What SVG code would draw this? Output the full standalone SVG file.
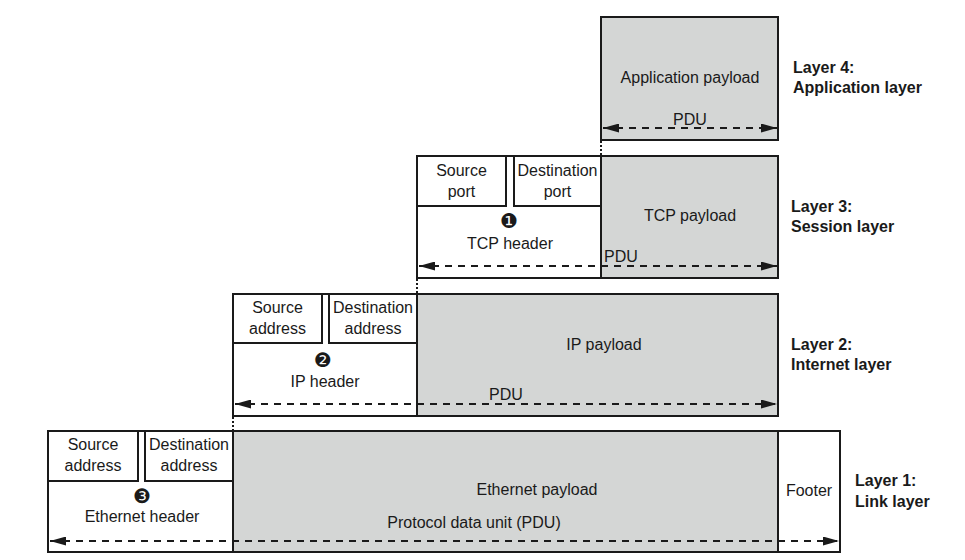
<svg xmlns="http://www.w3.org/2000/svg" width="965" height="560" viewBox="0 0 965 560">
<style>
.bg{fill:#ffffff}
.box{fill:#ffffff;stroke:#1a1a1a;stroke-width:2}
.pay{fill:#d4d6d5;stroke:#1a1a1a;stroke-width:2}
.t{font-family:"Liberation Sans",Arial,sans-serif;font-size:16px;fill:#1a1a1a;text-anchor:middle}
.lbl{font-family:"Liberation Sans",Arial,sans-serif;font-size:16px;font-weight:bold;fill:#1a1a1a}
.num{font-family:"DejaVu Sans",sans-serif;font-size:20px;fill:#1a1a1a;text-anchor:middle}
.pdu{fill:none;stroke:#1a1a1a;stroke-width:2;stroke-dasharray:7 6;marker-start:url(#ah);marker-end:url(#ah)}
.dot{fill:none;stroke:#1a1a1a;stroke-width:2;stroke-dasharray:2 2}
</style>
<defs>
<marker id="ah" viewBox="0 0 16 9" refX="16" refY="4.5" markerWidth="16" markerHeight="9" markerUnits="userSpaceOnUse" orient="auto-start-reverse">
<path d="M0,0 L16,4.5 L0,9 z" fill="#1a1a1a"/>
</marker>
</defs>
<rect class="bg" x="0" y="0" width="965" height="560"/>

<g id="layer4">
<rect class="pay" x="601" y="17" width="177" height="123"/>
<text class="t" x="690" y="83">Application payload</text>
<text class="t" x="690" y="125">PDU</text>
<text class="lbl" x="793" y="73">Layer 4:</text>
<text class="lbl" x="793" y="93">Application layer</text>
</g>

<g id="layer3">
<rect class="box" x="417" y="156" width="184" height="122"/>
<rect class="pay" x="601" y="156" width="177" height="122"/>
<rect class="box" x="417" y="156" width="89" height="50"/>
<rect class="box" x="514" y="156" width="87" height="50"/>
<text class="t" x="461.5" y="176">Source</text>
<text class="t" x="461.5" y="197">port</text>
<text class="t" x="557.5" y="176">Destination</text>
<text class="t" x="557.5" y="197">port</text>
<text class="num" x="509" y="228">❶</text>
<text class="t" x="510" y="249">TCP header</text>
<text class="t" x="690" y="221">TCP payload</text>
<text class="t" x="604" y="262" style="text-anchor:start">PDU</text>
<text class="lbl" x="791" y="212">Layer 3:</text>
<text class="lbl" x="791" y="232">Session layer</text>
</g>

<g id="layer2">
<rect class="box" x="233" y="294" width="184" height="122"/>
<rect class="pay" x="417" y="294" width="361" height="122"/>
<rect class="box" x="233" y="294" width="89" height="49"/>
<rect class="box" x="329" y="294" width="88" height="49"/>
<text class="t" x="277.5" y="313">Source</text>
<text class="t" x="277.5" y="334">address</text>
<text class="t" x="373" y="313">Destination</text>
<text class="t" x="373" y="334">address</text>
<text class="num" x="323" y="367">❷</text>
<text class="t" x="325" y="387">IP header</text>
<text class="t" x="604" y="350">IP payload</text>
<text class="t" x="506" y="400">PDU</text>
<text class="lbl" x="791" y="350">Layer 2:</text>
<text class="lbl" x="791" y="370">Internet layer</text>
</g>

<g id="layer1">
<rect class="box" x="48" y="431" width="185" height="121"/>
<rect class="pay" x="233" y="431" width="545" height="121"/>
<rect class="box" x="778" y="431" width="62" height="121"/>
<rect class="box" x="48" y="431" width="90" height="50"/>
<rect class="box" x="145" y="431" width="88" height="50"/>
<text class="t" x="93" y="450">Source</text>
<text class="t" x="93" y="471">address</text>
<text class="t" x="189" y="450">Destination</text>
<text class="t" x="189" y="471">address</text>
<text class="num" x="142" y="503">❸</text>
<text class="t" x="142" y="522">Ethernet header</text>
<text class="t" x="537" y="495">Ethernet payload</text>
<text class="t" x="474" y="528">Protocol data unit (PDU)</text>
<text class="t" x="809" y="496">Footer</text>
<text class="lbl" x="855" y="486">Layer 1:</text>
<text class="lbl" x="855" y="507">Link layer</text>
</g>

<g id="connectors">
<line class="pdu" x1="603" y1="128" x2="777" y2="128"/>
<line class="pdu" x1="419" y1="266" x2="777" y2="266"/>
<line class="pdu" x1="235" y1="404" x2="777" y2="404"/>
<line class="pdu" x1="50" y1="541" x2="839" y2="541"/>
<line class="dot" x1="601" y1="141" x2="601" y2="155"/>
<line class="dot" x1="417" y1="279" x2="417" y2="293"/>
<line class="dot" x1="233" y1="417" x2="233" y2="430"/>
</g>
</svg>
